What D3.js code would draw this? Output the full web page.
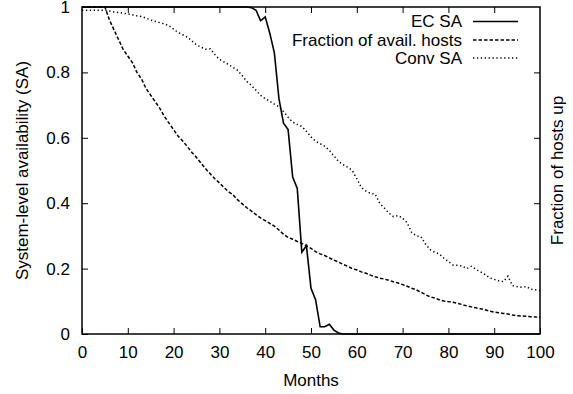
<!DOCTYPE html>
<html>
<head>
<meta charset="utf-8">
<script src="https://cdn.jsdelivr.net/npm/d3@7"></script>
<style>
body{margin:0;background:#fff;}
text{font-family:"Liberation Sans",Arial,sans-serif;fill:#000;}
</style>
</head>
<body>
<svg id="chart" width="573" height="394"></svg>
<script>
const months = d3.range(0, 101);
const ecSA = [1,1,1,1,1,1,1,1,1,1, 1,1,1,1,1,1,1,1,1,1, 1,1,1,1,1,1,1,1,1,1, 1,1,1,1,1,1,1,0.998,0.99,0.958,
  0.97,0.92,0.86,0.72,0.645,0.625,0.48,0.445,0.25,0.27, 0.14,0.105,0.022,0.022,0.03,0.012,0.003,0,0,0,
  0,0,0,0,0,0,0,0,0,0, 0,0,0,0,0,0,0,0,0,0, 0,0,0,0,0,0,0,0,0,0, 0,0,0,0,0,0,0,0,0,0, 0];
const hostsUp = [1,1,1,1,1,1,0.96,0.93,0.90,0.87, 0.85,0.83,0.80,0.78,0.75,0.73,0.71,0.69,0.665,0.645,
  0.625,0.605,0.59,0.573,0.555,0.54,0.522,0.505,0.49,0.475, 0.462,0.448,0.435,0.425,0.41,0.398,0.386,0.376,0.365,0.355,
  0.347,0.338,0.33,0.318,0.305,0.295,0.29,0.283,0.277,0.27, 0.262,0.252,0.245,0.24,0.233,0.226,0.22,0.213,0.207,0.2,
  0.196,0.19,0.186,0.18,0.175,0.171,0.168,0.164,0.16,0.156, 0.151,0.146,0.14,0.135,0.128,0.12,0.114,0.11,0.105,0.101,
  0.099,0.097,0.094,0.09,0.086,0.083,0.08,0.077,0.074,0.07, 0.067,0.065,0.063,0.061,0.058,0.056,0.055,0.054,0.053,0.052, 0.051];
const convSA = [0.99,0.99,0.99,0.99,0.99,0.99,0.988,0.985,0.983,0.981, 0.979,0.976,0.973,0.971,0.966,0.96,0.956,0.952,0.948,0.943,
  0.932,0.922,0.915,0.908,0.896,0.884,0.877,0.871,0.872,0.855, 0.84,0.832,0.824,0.815,0.806,0.79,0.772,0.76,0.745,0.73,
  0.72,0.712,0.703,0.695,0.68,0.663,0.648,0.641,0.635,0.62, 0.603,0.59,0.582,0.574,0.562,0.545,0.528,0.518,0.51,0.5,
  0.475,0.448,0.437,0.43,0.428,0.4,0.385,0.37,0.359,0.362, 0.355,0.34,0.31,0.3,0.298,0.275,0.258,0.25,0.245,0.232,
  0.222,0.211,0.21,0.208,0.2,0.207,0.198,0.19,0.182,0.172, 0.167,0.163,0.16,0.177,0.148,0.145,0.143,0.145,0.137,0.135, 0.133];
const seriesNames = ["EC SA", "Fraction of avail. hosts", "Conv SA"];
const xTicks = [0,10,20,30,40,50,60,70,80,90,100];
const yTicks = [0,0.2,0.4,0.6,0.8,1];
const yTickLabels = ["0","0.2","0.4","0.6","0.8","1"];

const svg = d3.select("#chart");
const L = 82, R = 540, T = 7, B = 334;
const x = d3.scaleLinear().domain([0,100]).range([L,R]);
const y = d3.scaleLinear().domain([0,1]).range([B,T]);
const fs = 17;

// ticks inward on all four sides
const tickLen = 6;
const ax = svg.append("g");
ax.append("g").attr("transform",`translate(0,${B})`)
  .call(d3.axisBottom(x).tickValues(xTicks).tickSize(-tickLen).tickPadding(12).tickFormat(d3.format("d")))
  .call(g=>{g.select(".domain").remove(); g.selectAll("text").attr("font-size",fs).attr("font-family","Liberation Sans, Arial, sans-serif");});
ax.append("g").attr("transform",`translate(0,${T})`)
  .call(d3.axisTop(x).tickValues(xTicks.slice(1,-1)).tickSize(-tickLen).tickFormat(""))
  .call(g=>g.select(".domain").remove());
ax.append("g").attr("transform",`translate(${L},0)`)
  .call(d3.axisLeft(y).tickValues(yTicks).tickSize(-tickLen).tickPadding(12).tickFormat((d,i)=>yTickLabels[i]))
  .call(g=>{g.select(".domain").remove(); g.selectAll("text").attr("font-size",fs).attr("font-family","Liberation Sans, Arial, sans-serif");});
ax.append("g").attr("transform",`translate(${R},0)`)
  .call(d3.axisRight(y).tickValues(yTicks.slice(1,-1)).tickSize(-tickLen).tickFormat(""))
  .call(g=>g.select(".domain").remove());
ax.selectAll(".tick line").attr("stroke","#000").attr("stroke-width",1);

const data = [
  {name: seriesNames[0], vals: ecSA, dash: null, w: 1.6},
  {name: seriesNames[1], vals: hostsUp, dash: "3.5,2", w: 1.5},
  {name: seriesNames[2], vals: convSA, dash: "1.3,2.6", w: 1.5}
];
const line = d3.line().x((d,i)=>x(months[i])).y(d=>y(d));
data.forEach(s=>{
  svg.append("path").datum(s.vals).attr("d",line)
    .attr("fill","none").attr("stroke","#000").attr("stroke-width",s.w)
    .attr("stroke-dasharray",s.dash);
});

// border
svg.append("rect").attr("x",L).attr("y",T).attr("width",R-L).attr("height",B-T)
  .attr("fill","none").attr("stroke","#000").attr("stroke-width",1.5);

// legend
const legY = [21.5, 40, 58];
data.forEach((s,i)=>{
  svg.append("text").attr("x",462).attr("y",legY[i]).attr("dy","0.35em")
    .attr("text-anchor","end").attr("font-size",fs).text(s.name);
  svg.append("line").attr("x1",473).attr("x2",518).attr("y1",legY[i]).attr("y2",legY[i])
    .attr("stroke","#000").attr("stroke-width",s.w).attr("stroke-dasharray",s.dash);
});

// axis titles
svg.append("text").attr("x",(L+R)/2).attr("y",386).attr("text-anchor","middle").attr("font-size",fs).text("Months");
svg.append("text").attr("transform",`translate(28,${(T+B)/2}) rotate(-90)`).attr("text-anchor","middle")
  .attr("font-size",fs).text("System-level availability (SA)");
svg.append("text").attr("transform",`translate(563,${(T+B)/2}) rotate(-90)`).attr("text-anchor","middle")
  .attr("font-size",fs).text("Fraction of hosts up");
</script>
</body>
</html>
